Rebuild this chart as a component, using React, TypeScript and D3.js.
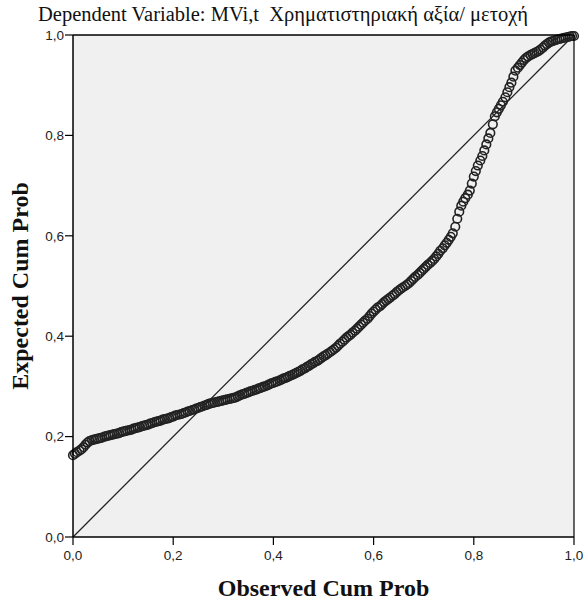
import React from "react";
import * as d3 from "d3";

const titleText = "Dependent Variable: MVi,t  Χρηματιστηριακή αξία/ μετοχή";
const xAxisTitle = "Observed Cum Prob";
const yAxisTitle = "Expected Cum Prob";
const tickValues = [0, 0.2, 0.4, 0.6, 0.8, 1.0];
const tickLabels = ["0,0", "0,2", "0,4", "0,6", "0,8", "1,0"];

// Observed cumulative probability
const observed = [
  0.000, 0.004, 0.008, 0.013, 0.017, 0.021, 0.025, 0.029, 0.033, 0.038, 0.042, 0.046,
  0.050, 0.054, 0.058, 0.063, 0.067, 0.071, 0.075, 0.079, 0.083, 0.088, 0.092, 0.096,
  0.100, 0.104, 0.108, 0.113, 0.117, 0.121, 0.125, 0.129, 0.133, 0.138, 0.142, 0.146,
  0.150, 0.154, 0.158, 0.163, 0.167, 0.171, 0.175, 0.179, 0.183, 0.188, 0.192, 0.196,
  0.200, 0.204, 0.208, 0.213, 0.217, 0.221, 0.225, 0.229, 0.233, 0.238, 0.242, 0.246,
  0.250, 0.254, 0.258, 0.263, 0.267, 0.271, 0.275, 0.279, 0.283, 0.288, 0.292, 0.296,
  0.300, 0.304, 0.308, 0.313, 0.317, 0.321, 0.325, 0.329, 0.333, 0.338, 0.342, 0.346,
  0.350, 0.354, 0.358, 0.363, 0.367, 0.371, 0.375, 0.379, 0.383, 0.388, 0.392, 0.396,
  0.400, 0.404, 0.408, 0.413, 0.417, 0.421, 0.425, 0.429, 0.433, 0.438, 0.442, 0.446,
  0.450, 0.454, 0.458, 0.463, 0.467, 0.471, 0.475, 0.479, 0.483, 0.488, 0.492, 0.496,
  0.500, 0.504, 0.508, 0.513, 0.517, 0.521, 0.525, 0.529, 0.533, 0.538, 0.542, 0.546,
  0.550, 0.554, 0.558, 0.563, 0.567, 0.571, 0.575, 0.579, 0.583, 0.588, 0.592, 0.596,
  0.600, 0.604, 0.608, 0.613, 0.617, 0.621, 0.625, 0.629, 0.633, 0.638, 0.642, 0.646,
  0.650, 0.654, 0.658, 0.663, 0.667, 0.671, 0.675, 0.679, 0.683, 0.688, 0.692, 0.696,
  0.700, 0.704, 0.708, 0.713, 0.717, 0.721, 0.725, 0.729, 0.733, 0.738, 0.742, 0.746,
  0.750, 0.754, 0.758, 0.763, 0.767, 0.771, 0.775, 0.779, 0.783, 0.788, 0.792, 0.796,
  0.800, 0.804, 0.808, 0.813, 0.817, 0.821, 0.825, 0.829, 0.833, 0.838, 0.842, 0.846,
  0.850, 0.854, 0.858, 0.863, 0.867, 0.871, 0.875, 0.879, 0.883, 0.888, 0.892, 0.896,
  0.900, 0.904, 0.908, 0.913, 0.917, 0.921, 0.925, 0.929, 0.933, 0.938, 0.942, 0.946,
  0.950, 0.954, 0.958, 0.963, 0.967, 0.971, 0.975, 0.979, 0.983, 0.988, 0.992, 0.996,
  1.000,
];

// Expected cumulative probability
const expected = [
  0.163, 0.166, 0.169, 0.172, 0.175, 0.179, 0.184, 0.188, 0.191, 0.193, 0.194, 0.195,
  0.196, 0.197, 0.198, 0.200, 0.201, 0.202, 0.203, 0.204, 0.205, 0.206, 0.207, 0.209,
  0.210, 0.211, 0.212, 0.213, 0.214, 0.216, 0.217, 0.218, 0.219, 0.221, 0.222, 0.223,
  0.224, 0.226, 0.227, 0.229, 0.230, 0.231, 0.232, 0.234, 0.235, 0.236, 0.237, 0.239,
  0.240, 0.242, 0.243, 0.244, 0.245, 0.247, 0.248, 0.250, 0.251, 0.253, 0.254, 0.256,
  0.257, 0.259, 0.260, 0.262, 0.263, 0.265, 0.266, 0.267, 0.268, 0.269, 0.270, 0.271,
  0.272, 0.273, 0.274, 0.275, 0.276, 0.277, 0.278, 0.280, 0.282, 0.284, 0.285, 0.287,
  0.288, 0.290, 0.291, 0.293, 0.294, 0.296, 0.297, 0.299, 0.300, 0.302, 0.304, 0.306,
  0.307, 0.309, 0.310, 0.312, 0.314, 0.316, 0.317, 0.319, 0.321, 0.323, 0.325, 0.327,
  0.329, 0.331, 0.334, 0.336, 0.339, 0.341, 0.344, 0.346, 0.349, 0.351, 0.354, 0.357,
  0.360, 0.362, 0.365, 0.368, 0.371, 0.374, 0.377, 0.381, 0.385, 0.389, 0.393, 0.397,
  0.400, 0.403, 0.407, 0.411, 0.415, 0.419, 0.423, 0.427, 0.431, 0.435, 0.440, 0.445,
  0.449, 0.453, 0.457, 0.460, 0.464, 0.468, 0.471, 0.474, 0.477, 0.481, 0.484, 0.488,
  0.491, 0.494, 0.497, 0.500, 0.503, 0.506, 0.510, 0.514, 0.518, 0.522, 0.526, 0.530,
  0.534, 0.538, 0.542, 0.546, 0.550, 0.554, 0.559, 0.564, 0.570, 0.575, 0.581, 0.586,
  0.592, 0.598, 0.605, 0.618, 0.634, 0.648, 0.660, 0.668, 0.675, 0.682, 0.690, 0.704,
  0.718, 0.729, 0.740, 0.750, 0.759, 0.770, 0.782, 0.794, 0.805, 0.822, 0.838, 0.846,
  0.853, 0.860, 0.867, 0.876, 0.886, 0.896, 0.905, 0.917, 0.929, 0.935, 0.940, 0.945,
  0.950, 0.954, 0.957, 0.960, 0.962, 0.964, 0.966, 0.968, 0.971, 0.975, 0.979, 0.982,
  0.985, 0.987, 0.988, 0.990, 0.991, 0.992, 0.993, 0.994, 0.995, 0.996, 0.997, 0.998,
  0.998,
];

const W = 585;
const H = 600;
const left = 73;
const right = 574;
const top = 35;
const bottom = 537;

export default function App() {
  const x = d3.scaleLinear().domain([0, 1]).range([left, right]);
  const y = d3.scaleLinear().domain([0, 1]).range([bottom, top]);
  const points = observed.map((o, i) => ({ o, e: expected[i] }));

  return (
    <svg
      width={W}
      height={H}
      style={{ position: "absolute", left: 0, top: 0, background: "#fff" }}
    >
      <text
        x={283}
        y={21}
        textAnchor="middle"
        fontFamily="'Liberation Serif', serif"
        fontSize={20.5}
        fill="#111"
        style={{ whiteSpace: "pre" }}
      >
        {titleText}
      </text>
      <rect x={left} y={top} width={right - left} height={bottom - top} fill="#f0f0f0" />
      <line x1={x(0)} y1={y(0)} x2={x(1)} y2={y(1)} stroke="#222" strokeWidth={1.3} />
      <g>
        {points.map((p, i) => (
          <circle
            key={i}
            cx={x(p.o)}
            cy={y(p.e)}
            r={4.3}
            fill="none"
            stroke="#222"
            strokeWidth={1.6}
          />
        ))}
      </g>
      {/* frame */}
      <line x1={left} y1={top} x2={right} y2={top} stroke="#000" strokeWidth={1.5} />
      <line x1={right} y1={top} x2={right} y2={bottom} stroke="#000" strokeWidth={1.2} />
      <line x1={left} y1={top} x2={left} y2={bottom} stroke="#000" strokeWidth={1.5} />
      <line x1={left} y1={bottom} x2={right} y2={bottom} stroke="#000" strokeWidth={1.5} />
      {/* y ticks */}
      {tickValues.map((t, i) => (
        <g key={"y" + i}>
          <line x1={left - 8} x2={left} y1={y(t)} y2={y(t)} stroke="#000" strokeWidth={1.2} />
          <text
            x={left - 9}
            y={y(t)}
            dy="0.35em"
            textAnchor="end"
            fontFamily="'Liberation Sans', Arial, sans-serif"
            fontSize={13.5}
            fill="#222"
          >
            {tickLabels[i]}
          </text>
        </g>
      ))}
      {/* x ticks */}
      {tickValues.map((t, i) => (
        <g key={"x" + i}>
          <line x1={x(t)} x2={x(t)} y1={bottom} y2={bottom + 8} stroke="#000" strokeWidth={1.2} />
          <text
            x={x(t)}
            y={560}
            textAnchor="middle"
            fontFamily="'Liberation Sans', Arial, sans-serif"
            fontSize={13.5}
            fill="#222"
          >
            {tickLabels[i]}
          </text>
        </g>
      ))}
      <text
        x={(left + right) / 2}
        y={596}
        textAnchor="middle"
        fontFamily="'Liberation Serif', serif"
        fontWeight="bold"
        fontSize={24}
        fill="#111"
      >
        {xAxisTitle}
      </text>
      <text
        transform={`translate(28,${(top + bottom) / 2}) rotate(-90)`}
        textAnchor="middle"
        fontFamily="'Liberation Serif', serif"
        fontWeight="bold"
        fontSize={24}
        fill="#111"
      >
        {yAxisTitle}
      </text>
    </svg>
  );
}
